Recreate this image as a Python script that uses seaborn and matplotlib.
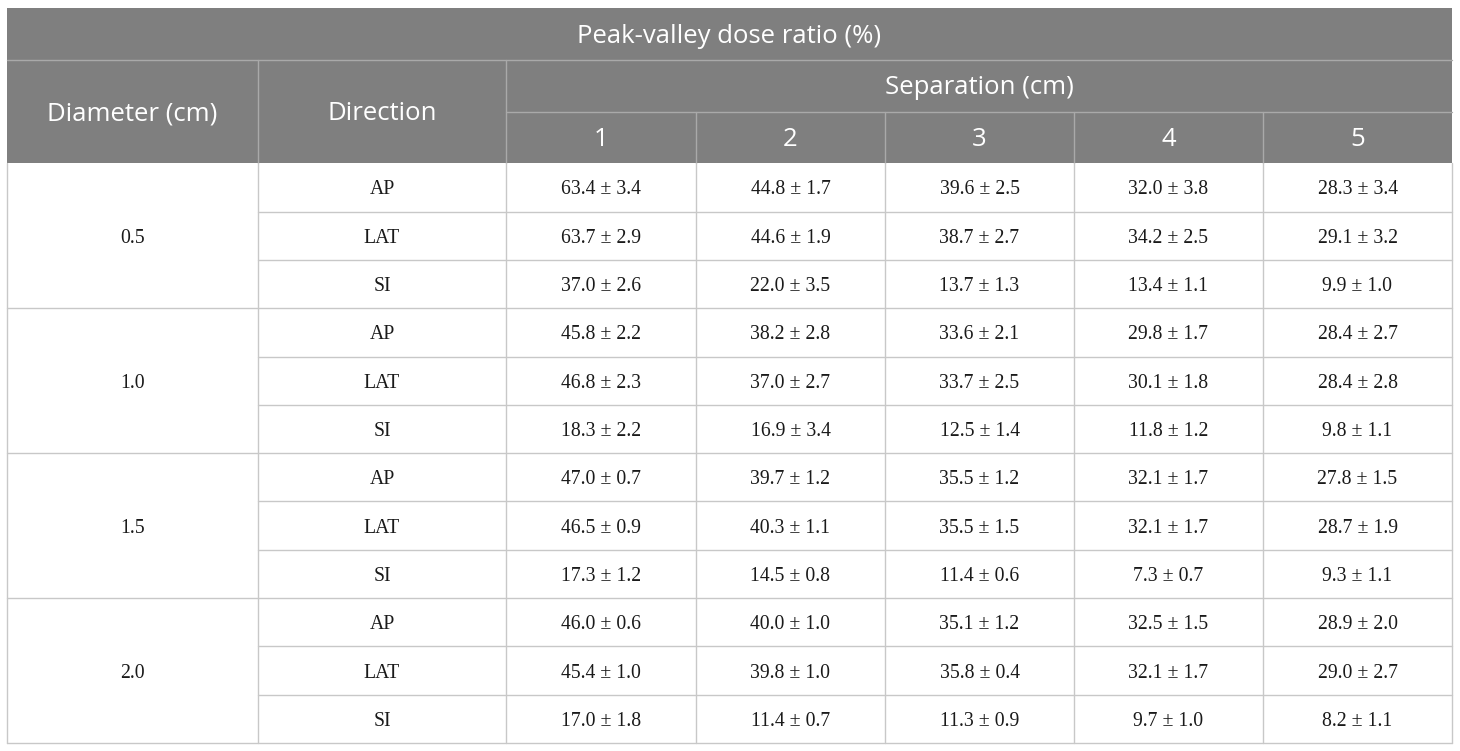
import numpy as np
import seaborn as sns
import matplotlib.pyplot as plt
from matplotlib.patches import Rectangle

# Table data
title = "Peak-valley dose ratio (%)"
diameters = ["0.5", "1.0", "1.5", "2.0"]
directions = ["AP", "LAT", "SI"]
separations = ["1", "2", "3", "4", "5"]

means = np.array([
    [63.4, 44.8, 39.6, 32.0, 28.3],
    [63.7, 44.6, 38.7, 34.2, 29.1],
    [37.0, 22.0, 13.7, 13.4, 9.9],
    [45.8, 38.2, 33.6, 29.8, 28.4],
    [46.8, 37.0, 33.7, 30.1, 28.4],
    [18.3, 16.9, 12.5, 11.8, 9.8],
    [47.0, 39.7, 35.5, 32.1, 27.8],
    [46.5, 40.3, 35.5, 32.1, 28.7],
    [17.3, 14.5, 11.4, 7.3, 9.3],
    [46.0, 40.0, 35.1, 32.5, 28.9],
    [45.4, 39.8, 35.8, 32.1, 29.0],
    [17.0, 11.4, 11.3, 9.7, 8.2],
])
sds = np.array([
    [3.4, 1.7, 2.5, 3.8, 3.4],
    [2.9, 1.9, 2.7, 2.5, 3.2],
    [2.6, 3.5, 1.3, 1.1, 1.0],
    [2.2, 2.8, 2.1, 1.7, 2.7],
    [2.3, 2.7, 2.5, 1.8, 2.8],
    [2.2, 3.4, 1.4, 1.2, 1.1],
    [0.7, 1.2, 1.2, 1.7, 1.5],
    [0.9, 1.1, 1.5, 1.7, 1.9],
    [1.2, 0.8, 0.6, 0.7, 1.1],
    [0.6, 1.0, 1.2, 1.5, 2.0],
    [1.0, 1.0, 0.4, 1.7, 2.7],
    [1.8, 0.7, 0.9, 1.0, 1.1],
])

sns.set_theme(style="white")

# Layout (pixels)
col_x = [7, 258, 506, 696, 885, 1074, 1263, 1452]
head_y = [8, 59.5, 111.5, 163.3]
body_top, body_bot = 163.3, 743
n_rows = means.shape[0]
row_h = (body_bot - body_top) / n_rows
dy = 2.5  # text sits a bit below cell centre

head_bg = "#7f7f7f"
head_line = "#a9a9a9"
body_line = "#c8c8c8"
head_font = "Open Sans"
body_font = "Liberation Serif"

fig = plt.figure(figsize=(14.6, 7.51), dpi=100)
ax = fig.add_axes([0, 0, 1, 1])
ax.set_xlim(0, 1460)
ax.set_ylim(751, 0)
ax.axis("off")

# Header background
ax.add_patch(Rectangle((col_x[0], head_y[0]), col_x[-1] - col_x[0], head_y[3] - head_y[0],
                       facecolor=head_bg, edgecolor="none"))

# Header lines
ax.plot([col_x[0], col_x[-1]], [head_y[1]] * 2, color=head_line, lw=1)
ax.plot([col_x[2], col_x[-1]], [head_y[2]] * 2, color=head_line, lw=1)
for x in col_x[1:3]:
    ax.plot([x, x], [head_y[1], head_y[3]], color=head_line, lw=1)
for x in col_x[3:-1]:
    ax.plot([x, x], [head_y[2], head_y[3]], color=head_line, lw=1)

hkw = dict(color="white", fontsize=18.5, family=head_font, ha="center", va="center")
ax.text((col_x[0] + col_x[-1]) / 2, (head_y[0] + head_y[1]) / 2 + dy, title, **hkw)
ax.text((col_x[0] + col_x[1]) / 2, (head_y[1] + head_y[3]) / 2 + dy, "Diameter (cm)", **hkw)
ax.text((col_x[1] + col_x[2]) / 2, (head_y[1] + head_y[3]) / 2 + dy, "Direction", **hkw)
ax.text((col_x[2] + col_x[-1]) / 2, (head_y[1] + head_y[2]) / 2 + dy, "Separation (cm)", **hkw)
for j, s in enumerate(separations):
    ax.text((col_x[j + 2] + col_x[j + 3]) / 2, (head_y[2] + head_y[3]) / 2 + dy, s, **hkw)

# Body
bkw = dict(color="#1a1a1a", fontsize=14.2, family=body_font, ha="center", va="center")
for i in range(n_rows):
    y0 = body_top + i * row_h
    yc = y0 + row_h / 2 + dy
    # horizontal line below each row
    y1 = y0 + row_h
    x_start = col_x[0] if (i + 1) % 3 == 0 else col_x[1]
    ax.plot([x_start, col_x[-1]], [y1, y1], color=body_line, lw=1)
    ax.text((col_x[1] + col_x[2]) / 2, yc, directions[i % 3], **bkw)
    for j in range(len(separations)):
        ax.text((col_x[j + 2] + col_x[j + 3]) / 2, yc,
                f"{means[i, j]:.1f} \u00b1 {sds[i, j]:.1f}", **bkw)

for k, d in enumerate(diameters):
    yc = body_top + (3 * k + 1.5) * row_h + dy
    ax.text((col_x[0] + col_x[1]) / 2, yc, d, **bkw)

for x in col_x:
    ax.plot([x, x], [body_top, body_bot], color=body_line, lw=1)

fig.savefig("out.png", dpi=100)
